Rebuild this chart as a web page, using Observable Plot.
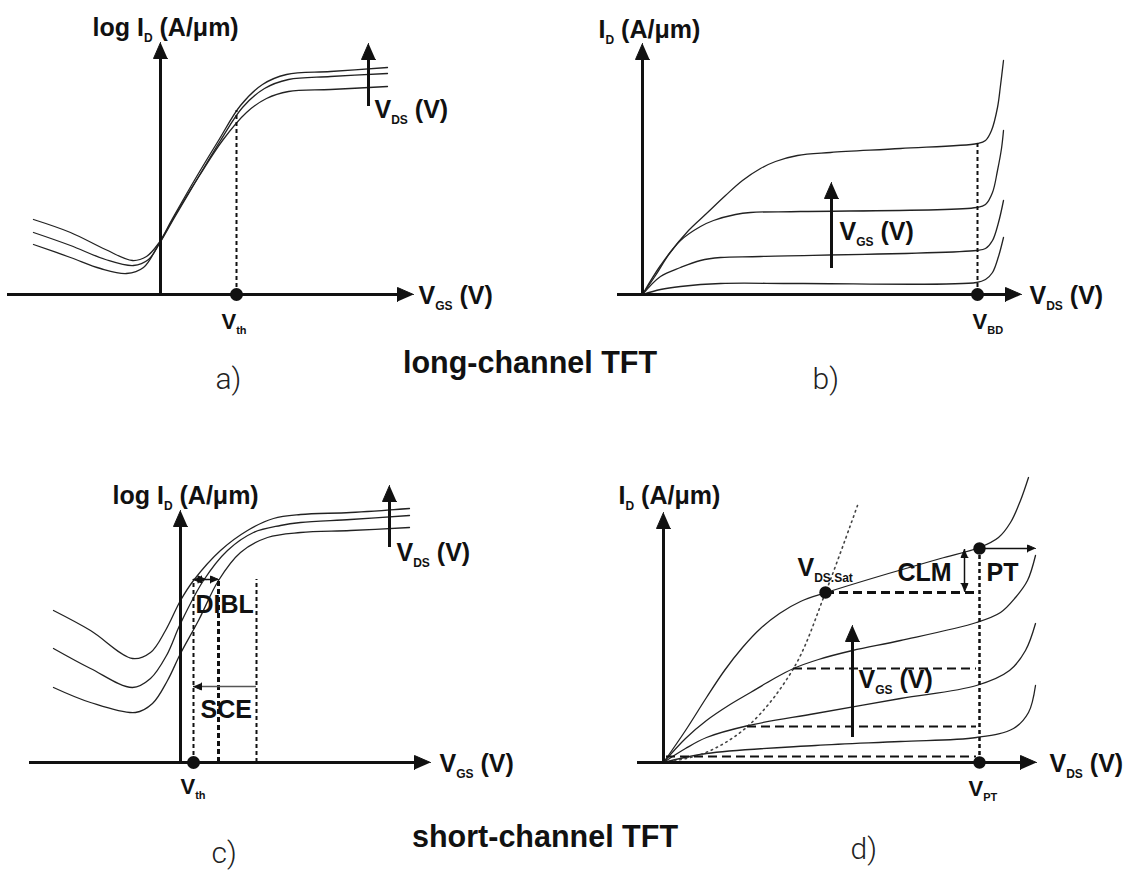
<!DOCTYPE html>
<html>
<head>
<meta charset="utf-8">
<script src="https://cdn.jsdelivr.net/npm/d3@7"></script>
<script src="https://cdn.jsdelivr.net/npm/@observablehq/plot@0.6"></script>
<style>
  body { margin: 0; background: #fff; }
  #fig { position: relative; width: 1132px; height: 870px; background: #fff; overflow: hidden; }
  .title { position: absolute; font-family: "Liberation Sans", Arial, Helvetica, sans-serif; font-weight: bold;
           font-size: 30.5px; line-height: 30px; text-align: center; white-space: nowrap; color: #111; width: 500px; }
</style>
</head>
<body>
<div id="fig"></div>
<script>
// ======================= DATA (schematic units, origin at the axes crossing) =======================
// ---- a) long-channel transfer curves: [VGS, log ID] for three VDS values
const aCurveVdsHigh = [[-12.7,7.5],[-9.0,6.2],[-5.5,4.5],[-2.8,3.4],[-1.4,3.8],[-0.2,5.1],[1.2,7.6],[3.5,11.6],[5.8,15.4],[8.0,18.9],[10.2,21.0],[12.6,22.0],[17.0,22.3],[22.7,22.7]];
const aCurveVdsMid  = [[-12.7,6.2],[-9.0,4.9],[-5.5,3.5],[-2.7,2.9],[-1.2,3.5],[-0.1,5.1],[1.4,7.7],[3.7,11.6],[6.0,15.4],[8.2,18.7],[10.4,20.6],[12.8,21.5],[17.0,21.8],[22.7,22.1]];
const aCurveVdsLow  = [[-12.7,5.0],[-9.0,3.7],[-6.0,2.6],[-3.4,2.1],[-1.7,2.7],[-0.3,4.8],[1.5,8.0],[3.9,11.9],[6.2,15.4],[8.6,18.2],[10.6,19.6],[12.8,20.3],[17.0,20.5],[22.7,20.8]];
const aVth = 7.6, aVthLevel = 18.4;
const aXAxis = [-15.3, 25.3], aYAxis = [0, 25.2];
const aVdsArrow = [20.8, 18.8, 25.1];            // x, from, to

// ---- b) long-channel output curves: [VDS, ID] for four VGS values
const bCurveVgs4 = [[0,0],[1.3,1.9],[2.7,4.1],[4.6,6.4],[6.4,8.1],[8.3,9.9],[10.0,11.4],[11.8,12.6],[13.3,13.3],[15.5,13.9],[18.8,14.2],[25.8,14.6],[33.5,15.1],[34.3,15.4],[34.9,16.4],[35.5,18.7],[35.8,20.9],[36.1,23.4]];
const bCurveVgs3 = [[0,0],[1.8,2.9],[3.8,5.4],[5.8,6.8],[7.1,7.4],[9.3,8.0],[10.8,8.2],[15.8,8.3],[33.4,8.7],[34.3,9.0],[35.0,10.2],[35.5,12.4],[35.9,14.6],[36.1,16.4]];
const bCurveVgs2 = [[0,0],[1.8,1.8],[3.8,2.7],[5.8,3.4],[7.8,3.7],[11.8,3.8],[33.4,4.4],[34.3,4.6],[35.0,5.4],[35.6,7.2],[36.1,9.4]];
const bCurveVgs1 = [[0,0],[1.8,0.5],[3.8,0.8],[7.8,1.1],[15.8,1.1],[33.4,1.2],[34.3,1.5],[35.0,2.2],[35.6,3.8],[36.1,5.7]];
const bVbd = 33.5, bVbdLevel = 15.1;
const bXAxis = [-2.5, 37.9], bYAxis = [0, 25.1];
const bVgsArrow = [18.9, 2.6, 11.2];

// ---- c) short-channel transfer curves: [VGS, log ID] for three VDS values
const cCurveVdsHigh = [[-12.7,15.2],[-9.0,13.2],[-4.8,10.4],[-3.0,11.0],[-1.5,13.2],[0,16.2],[1.3,18.2],[4.0,21.2],[6.7,23.2],[9.3,24.4],[12.0,24.8],[17.0,25.0],[22.9,25.4]];
const cCurveVdsMid  = [[-12.7,11.4],[-9.0,9.4],[-4.8,7.5],[-3.0,8.4],[-1.4,10.7],[0,13.9],[2.3,18.2],[4.7,21.2],[7.3,23.0],[10.0,23.7],[12.0,24.0],[17.0,24.3],[22.9,24.7]];
const cCurveVdsLow  = [[-12.7,7.5],[-9.0,6.0],[-4.5,5.0],[-2.8,5.9],[-1.3,8.2],[0,10.9],[1.8,14.2],[3.8,18.2],[6.0,21.0],[8.7,22.5],[12.0,23.0],[17.0,23.2],[22.9,23.5]];
const cVth = 1.3, cVthShifted = [3.8, 7.6], cMarkerLevel = 18.3;
const cDibl = [1.3, 2.55, 3.8];                  // threshold positions at the DIBL marker level
const cSce = [7.6, 1.3, 7.6];                    // from, to, level
const cXAxis = [-15.1, 25.0], cYAxis = [0, 25.2];
const cVdsArrow = [20.9, 21.5, 27.7];

// ---- d) short-channel output curves: [VDS, ID] for four VGS values
const dCurveVgs4 = [[0,0],[2.2,3.2],[4.3,6.5],[6.1,9.2],[7.9,11.5],[9.7,13.4],[11.6,14.9],[13.7,16.1],[16.3,17.0],[22.5,18.9],[27.7,20.4],[31.6,21.5],[33.5,22.5],[34.7,24.0],[35.7,26.2],[36.5,28.5]];
const dCurveVgs3 = [[0,0],[2.2,2.4],[4.3,4.2],[6.5,5.7],[8.7,7.0],[10.9,8.3],[13.0,9.4],[15.5,10.3],[18.9,11.2],[23.7,12.2],[31.3,14.0],[33.7,15.0],[35.2,16.5],[36.4,18.2],[37.2,20.7]];
const dCurveVgs2 = [[0,0],[2.2,1.4],[4.3,2.5],[8.5,3.7],[15.2,4.9],[23.7,6.4],[31.3,7.7],[34.6,9.2],[36.2,11.2],[37.2,13.9]];
const dCurveVgs1 = [[0,0],[4.3,0.9],[15.2,1.7],[23.7,2.1],[31.3,2.5],[35.0,3.4],[36.5,5.0],[37.2,7.7]];
const dVdsSatLocus = [[0,0],[4.0,0.9],[8.4,3.6],[13.0,9.4],[16.2,17.0],[19.4,25.7]];
const dSatLevels = [[16.2,17.0],[13.0,9.4],[8.4,3.6],[0.3,0.6]];   // [VDS,sat, ID,sat]
const dVpt = 31.6, dPtLevel = 21.4, dVdsSat = [16.2, 17.0];
const dClm = [30.1, 21.3, 17.1];
const dPtArrow = [31.6, 37.2];
const dXAxis = [-2.6, 37.3], dYAxis = [0, 25.0];
const dVgsArrow = [18.9, 2.5, 13.7];

// ---- texts (anchor = baseline start, in the same units)
const aTexts = [["log I_{D} (A/μm)",-6.8,25.9],["V_{GS} (V)",25.8,-0.9],["V_{DS} (V)",21.4,17.7]];
const aSmall = [["V_{th}",6.1,-3.4]];
const bTexts = [["I_{D} (A/μm)",-4.4,25.7],["V_{DS} (V)",38.7,-0.9],["V_{GS} (V)",19.7,5.5]];
const bSmall = [["V_{BD}",33.0,-3.4]];
const cTexts = [["log I_{D} (A/μm)",-6.8,25.9],["V_{GS} (V)",25.9,-0.9],["V_{DS} (V)",21.6,20.2],["DIBL",1.5,15.0],["SCE",2.0,4.5]];
const cSmall = [["V_{th}",0.0,-3.1]];
const dTexts = [["I_{D} (A/μm)",-4.5,25.9],["V_{DS} (V)",38.6,-0.9],["V_{GS} (V)",19.5,7.5],["CLM",23.4,18.2],["PT",32.3,18.2],["V_{DS.Sat}",13.4,18.7]];
const dSmall = [["V_{PT}",30.5,-3.3]];
const panelLetters = [["a)",5.5,-9.4],["b)",17.0,-9.4],["c)",3.1,-10.0],["d)",18.7,-9.6]];
const titles = ["long-channel TFT", "short-channel TFT"];

// ======================= DRAWING =======================
const FONT = '"Liberation Sans", Arial, Helvetica, sans-serif';
const INK = "#111";
const fig = document.getElementById("fig");

const rows = (arr, id) => arr.map(([x, y]) => ({x, y, id}));
const txt = arr => arr.map(([t, x, y]) => ({t, x, y}));

let headId = 0;
function head(x, y, dir, size) {
  const len = size === "big" ? 1.6 : 0.8, half = size === "big" ? 0.7 : 0.35;
  const d = {up:[0,1], down:[0,-1], left:[-1,0], right:[1,0]}[dir];
  const bx = x - d[0]*len, by = y - d[1]*len, px = -d[1], py = d[0], id = headId++;
  return [{x, y, id}, {x: bx + px*half, y: by + py*half, id}, {x: bx - px*half, y: by - py*half, id}];
}
const heads = list => Plot.line(list.flatMap(h => head(...h)), {x:"x", y:"y", z:"id", fill:INK, stroke:INK, strokeWidth:1, strokeLinejoin:"miter"});

const curves = (sets) => Plot.line(sets.flatMap(([a, id]) => rows(a, id)),
  {x:"x", y:"y", z:"id", curve:"catmull-rom", stroke:"#222", strokeWidth:1.3});

const axes = (xa, ya) => [
  Plot.ruleY([0], {x1: xa[0], x2: xa[1] - 0.8, stroke: INK, strokeWidth: 3}),
  Plot.ruleX([0], {y1: 0, y2: ya[1] - 0.8, stroke: INK, strokeWidth: 3})
];
const bigText = arr => Plot.text(txt(arr), {x:"x", y:"y", text:"t", textAnchor:"start", lineAnchor:"bottom",
  fontSize:25, fontWeight:"bold", fill:INK});
const smallText = arr => Plot.text(txt(arr), {x:"x", y:"y", text:"t", textAnchor:"start", lineAnchor:"bottom",
  fontSize:22, fontWeight:"bold", fill:INK});
const letter = i => Plot.text(txt([panelLetters[i]]), {x:"x", y:"y", text:"t", textAnchor:"start", lineAnchor:"bottom",
  fontSize:30, fontWeight:300, fontFamily:'Roboto, "Liberation Sans Narrow", "DejaVu Sans Condensed", sans-serif', fill:"#222"});

function subscripts(svg) {
  const ns = "http://www.w3.org/2000/svg";
  svg.querySelectorAll("text").forEach(t => {
    const m = t.textContent.match(/^(.*?)_\{(.*?)\}(.*)$/);
    if (!m) return;
    const g = t.closest("[font-size]");
    const fs = g ? parseFloat(g.getAttribute("font-size")) : 25;
    const sub = Math.round(fs * 0.48), shift = (fs * 0.24).toFixed(1);
    t.textContent = "";
    const a = document.createElementNS(ns, "tspan"); a.textContent = m[1]; t.appendChild(a);
    const b = document.createElementNS(ns, "tspan"); b.textContent = m[2];
    b.setAttribute("font-size", sub); b.setAttribute("dy", shift); t.appendChild(b);
    if (m[3]) { const c = document.createElementNS(ns, "tspan"); c.textContent = m[3]; c.setAttribute("dy", -shift); t.appendChild(c); }
  });
}

function panel(qx, qy, ox, oy, marks) {
  const W = 566, H = 435;
  const svg = Plot.plot({
    width: W, height: H, margin: 0,
    x: {domain: [(qx - ox)/10, (qx + W - ox)/10], axis: null},
    y: {domain: [(oy - qy - H)/10, (oy - qy)/10], axis: null},
    style: {background: "transparent", overflow: "visible", fontFamily: FONT},
    marks
  });
  subscripts(svg);
  svg.style.position = "absolute"; svg.style.left = qx + "px"; svg.style.top = qy + "px";
  fig.appendChild(svg);
}

// a)
panel(0, 0, 160, 294, [
  curves([[aCurveVdsHigh,"h"],[aCurveVdsMid,"m"],[aCurveVdsLow,"l"]]),
  ...axes(aXAxis, aYAxis),
  Plot.ruleX([aVth], {y1: 0, y2: aVthLevel, stroke: INK, strokeWidth: 2, strokeDasharray: "4,3"}),
  Plot.dot([{x: aVth, y: 0}], {x:"x", y:"y", r: 6.5, fill: INK, stroke: null}),
  Plot.ruleX([aVdsArrow[0]], {y1: aVdsArrow[1], y2: aVdsArrow[2] - 0.8, stroke: INK, strokeWidth: 3}),
  heads([[aXAxis[1],0,"right","big"],[0,aYAxis[1],"up","big"],[aVdsArrow[0],aVdsArrow[2],"up","big"]]),
  bigText(aTexts), smallText(aSmall), letter(0)
]);

// b)
panel(566, 0, 642, 294, [
  curves([[bCurveVgs4,"4"],[bCurveVgs3,"3"],[bCurveVgs2,"2"],[bCurveVgs1,"1"]]),
  ...axes(bXAxis, bYAxis),
  Plot.ruleX([bVbd], {y1: 0, y2: bVbdLevel, stroke: INK, strokeWidth: 2, strokeDasharray: "4,3"}),
  Plot.dot([{x: bVbd, y: 0}], {x:"x", y:"y", r: 6.5, fill: INK, stroke: null}),
  Plot.ruleX([bVgsArrow[0]], {y1: bVgsArrow[1], y2: bVgsArrow[2] - 0.8, stroke: INK, strokeWidth: 3}),
  heads([[bXAxis[1],0,"right","big"],[0,bYAxis[1],"up","big"],[bVgsArrow[0],bVgsArrow[2],"up","big"]]),
  bigText(bTexts), smallText(bSmall), letter(1)
]);

// c)
panel(0, 435, 180, 762, [
  curves([[cCurveVdsHigh,"h"],[cCurveVdsMid,"m"],[cCurveVdsLow,"l"]]),
  ...axes(cXAxis, cYAxis),
  Plot.ruleX([cVth, cVthShifted[1]], {y1: 0, y2: cMarkerLevel, stroke: INK, strokeWidth: 2, strokeDasharray: "4,3"}),
  Plot.ruleX([cVthShifted[0]], {y1: 0, y2: cMarkerLevel, stroke: INK, strokeWidth: 3, strokeDasharray: "5,3"}),
  Plot.ruleY([cMarkerLevel], {x1: cDibl[0], x2: cDibl[2], stroke: INK, strokeWidth: 1.5}),
  Plot.ruleY([cSce[2]], {x1: cSce[1], x2: cSce[0], stroke: "#555", strokeWidth: 1.5}),
  Plot.dot([{x: cVth, y: 0}], {x:"x", y:"y", r: 6.5, fill: INK, stroke: null}),
  Plot.ruleX([cVdsArrow[0]], {y1: cVdsArrow[1], y2: cVdsArrow[2] - 0.8, stroke: INK, strokeWidth: 3}),
  heads([[cXAxis[1],0,"right","big"],[0,cYAxis[1],"up","big"],[cVdsArrow[0],cVdsArrow[2],"up","big"],
         [cDibl[0],cMarkerLevel,"left","small"],[cDibl[1],cMarkerLevel,"right","small"],[cDibl[2],cMarkerLevel,"right","small"],
         [cSce[1],cSce[2],"left","small"]]),
  bigText(cTexts), smallText(cSmall), letter(2)
]);

// d)
panel(566, 435, 663, 762, [
  curves([[dCurveVgs4,"4"],[dCurveVgs3,"3"],[dCurveVgs2,"2"],[dCurveVgs1,"1"]]),
  Plot.line(rows(dVdsSatLocus, "s"), {x:"x", y:"y", curve:"catmull-rom", stroke:"#444", strokeWidth:1.6, strokeDasharray:"1.5,4"}),
  Plot.ruleY(dSatLevels.slice(0,1), {y: d => d[1], x1: d => d[0], x2: dVpt - 0.3, stroke: INK, strokeWidth: 3, strokeDasharray: "9,5"}),
  Plot.ruleY(dSatLevels.slice(1), {y: d => d[1], x1: d => d[0], x2: dVpt - 0.3, stroke: INK, strokeWidth: 2.2, strokeDasharray: "9,5"}),
  ...axes(dXAxis, dYAxis),
  Plot.ruleX([dVpt], {y1: 0, y2: dPtLevel, stroke: INK, strokeWidth: 2.5, strokeDasharray: "4,3"}),
  Plot.ruleX([dClm[0]], {y1: dClm[1], y2: dClm[2], stroke: INK, strokeWidth: 1.5}),
  Plot.ruleY([dPtLevel], {x1: dPtArrow[0], x2: dPtArrow[1] - 0.4, stroke: INK, strokeWidth: 1.5}),
  Plot.dot([{x: dVpt, y: 0}, {x: dVpt, y: dPtLevel}, {x: dVdsSat[0], y: dVdsSat[1]}], {x:"x", y:"y", r: 6.2, fill: INK, stroke: null}),
  Plot.ruleX([dVgsArrow[0]], {y1: dVgsArrow[1], y2: dVgsArrow[2] - 0.8, stroke: INK, strokeWidth: 3}),
  heads([[dXAxis[1],0,"right","big"],[0,dYAxis[1],"up","big"],[dVgsArrow[0],dVgsArrow[2],"up","big"],
         [dClm[0],dClm[1],"up","small"],[dClm[0],dClm[2],"down","small"],[dPtArrow[1],dPtLevel,"right","small"]]),
  bigText(dTexts), smallText(dSmall), letter(3)
]);

// section titles
[[titles[0], 530, 372], [titles[1], 545, 846]].forEach(([t, cx, base]) => {
  const d = document.createElement("div");
  d.className = "title"; d.textContent = t;
  d.style.left = (cx - 250) + "px"; d.style.top = (base - 25.5) + "px";
  fig.appendChild(d);
});
</script>
</body>
</html>
